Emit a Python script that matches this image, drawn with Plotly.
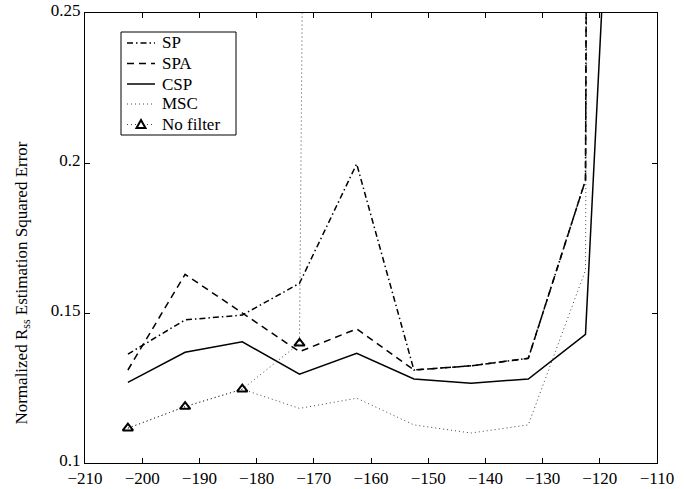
import plotly.graph_objects as go

# Data
x_vals = [-202.5, -192.5, -182.5, -172.5, -162.5, -152.5, -142.5, -132.5, -122.5, -112.5]
sp = [0.1363, 0.1477, 0.1493, 0.1599, 0.1997, 0.1310, 0.1324, 0.1349, 0.1943, 5.0]
spa = [0.1310, 0.1629, 0.1500, 0.1371, 0.1447, 0.1310, 0.1324, 0.1349, 0.1943, 5.0]
csp = [0.1269, 0.1369, 0.1404, 0.1296, 0.1366, 0.1280, 0.1266, 0.1280, 0.1429, 0.523]
msc = [0.1116, 0.1188, 0.1246, 0.1182, 0.1216, 0.1127, 0.1100, 0.1127, 0.1643, 5.0]
x_nofilter = [-202.5, -192.5, -182.5, -172.5, -162.5]
nofilter = [0.1116, 0.1188, 0.1246, 0.1399, 2.5]

series_names = ["SP", "SPA", "CSP", "MSC", "No filter"]
x_ticks = [-210, -200, -190, -180, -170, -160, -150, -140, -130, -120, -110]
y_ticks = [0.1, 0.15, 0.2, 0.25]
y_ticklabels = ["0.1", "0.15", "0.2", "0.25"]

FONT = "Liberation Serif"
W, H = 684, 489
ML, MR, MT, MB = 85, 27, 13, 26
PW, PH = W - ML - MR, H - MT - MB

def px(xp):
    return (xp - ML) / PW

def py(yp):
    return (H - MB - yp) / PH

styles = [
    dict(color="black", width=1.5, dash="6px,3px,1.5px,3px"),
    dict(color="black", width=1.5, dash="7px,5px"),
    dict(color="black", width=1.5),
    dict(color="#444444", width=1, dash="1px,3px"),
    dict(color="#444444", width=1, dash="1px,3px"),
]

fig = go.Figure()
for name, yv, st in zip(series_names[:4], [sp, spa, csp, msc], styles[:4]):
    fig.add_trace(go.Scatter(x=x_vals, y=yv, mode="lines", name=name,
                             line=st, showlegend=False))
fig.add_trace(go.Scatter(x=x_nofilter, y=nofilter, mode="lines+markers", name=series_names[4],
                         line=styles[4], showlegend=False,
                         marker=dict(symbol="triangle-up-open", size=9, color="black",
                                     line=dict(color="black", width=2))))

axis_common = dict(showgrid=False, zeroline=False, showline=True, linecolor="black",
                   linewidth=1, mirror="ticks", ticks="inside", ticklen=5,
                   tickcolor="black", automargin=False,
                   tickfont=dict(family=FONT, size=17, color="black"))

fig.update_xaxes(range=[-210, -110], tickvals=x_ticks, **axis_common)
fig.update_yaxes(range=[0.1, 0.25], tickvals=y_ticks, ticktext=y_ticklabels,
                 ticklabelshift=-3, **axis_common)

fig.add_annotation(text="Normalized R<sub>ss</sub> Estimation Squared Error",
                   xref="paper", yref="paper", x=-0.11, y=py(283.5), textangle=-90,
                   showarrow=False, font=dict(family=FONT, size=17, color="black"),
                   xanchor="center", yanchor="middle")

# Legend (drawn as decoration in paper coordinates)
shapes = [dict(type="rect", xref="paper", yref="paper",
               x0=px(121), x1=px(236), y0=py(135), y1=py(32),
               line=dict(color="black", width=1), fillcolor="white", layer="above")]
row_y = [43, 63.5, 84, 104, 124.5]
for name, st, ry in zip(series_names, styles, row_y):
    shapes.append(dict(type="line", xref="paper", yref="paper",
                       x0=px(127), x1=px(155), y0=py(ry), y1=py(ry),
                       line=st, layer="above"))
    fig.add_annotation(text=name, xref="paper", yref="paper", x=px(160), y=py(ry),
                       xanchor="left", yanchor="middle", showarrow=False,
                       font=dict(family=FONT, size=17, color="black"))
# triangle symbol for "No filter"
tx, ty = 141, 124.5
shapes.append(dict(type="path", xref="paper", yref="paper",
                   path="M {a},{b} L {c},{d} L {e},{f} Z".format(
                       a=px(tx - 4.5), b=py(ty + 3.5), c=px(tx + 4.5), d=py(ty + 3.5),
                       e=px(tx), f=py(ty - 4.5)),
                   line=dict(color="black", width=2), fillcolor="white", layer="above"))

fig.update_layout(
    width=W, height=H,
    margin=dict(l=ML, r=MR, t=MT, b=MB, autoexpand=False),
    paper_bgcolor="white", plot_bgcolor="white",
    showlegend=False,
    shapes=shapes,
)

fig.write_html("out.html")
